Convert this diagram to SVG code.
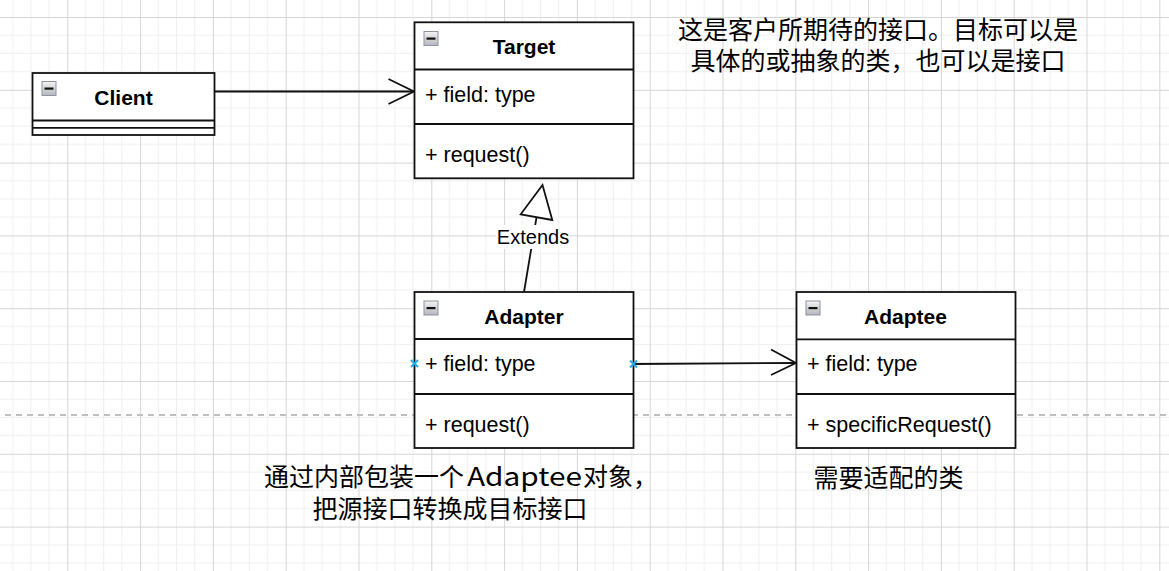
<svg xmlns="http://www.w3.org/2000/svg" width="1169" height="571" viewBox="0 0 1169 571">
  <defs>
    <pattern id="grid" patternUnits="userSpaceOnUse" x="-5.5" y="17" width="72.8" height="72.8">
      <path d="M18.2 0V72.8M36.4 0V72.8M54.6 0V72.8M0 18.2H72.8M0 36.4H72.8M0 54.6H72.8" stroke="#efefef" stroke-width="1" fill="none"/>
      <path d="M0.5 0V72.8M0 0.5H72.8" stroke="#d6d6d6" stroke-width="1" fill="none"/>
    </pattern>
    <linearGradient id="iconGrad" x1="0" y1="0" x2="0" y2="1">
      <stop offset="0" stop-color="#f4f4f4"/>
      <stop offset="1" stop-color="#b4b6bc"/>
    </linearGradient>
    <g id="icon">
      <rect x="0.5" y="0.5" width="14" height="14" fill="url(#iconGrad)" stroke="#8c93a3" stroke-width="1"/>
      <rect x="3" y="6.5" width="9" height="2.2" fill="#111"/>
    </g>
  </defs>
  <style>
    .box { fill: #ffffff; stroke: #111; stroke-width: 1.8; }
    .sep { stroke: #111; stroke-width: 1.8; fill: none; }
    .title { font-family: "Liberation Sans", Arial, sans-serif; font-size: 21px; font-weight: bold; fill: #000; text-anchor: middle; }
    .member { font-family: "Liberation Sans", Arial, sans-serif; font-size: 21.5px; fill: #000; }
    .note { font-family: "Noto Sans CJK SC", "Noto Sans", sans-serif; font-size: 25px; fill: #000; }
    .edge { stroke: #111; stroke-width: 1.8; fill: none; }
    .label { font-family: "Liberation Sans", Arial, sans-serif; font-size: 20px; fill: #000; text-anchor: middle; }
    .pin { stroke: #2aa7e6; stroke-width: 2; fill: none; }
  </style>

  <rect x="0" y="0" width="1169" height="571" fill="#ffffff"/>
  <rect x="0" y="0" width="1169" height="571" fill="url(#grid)"/>
  <line x1="5" y1="415" x2="1169" y2="415" stroke="#bfbfbf" stroke-width="1.8" stroke-dasharray="6 5"/>

  <g id="connectors">
    <g id="client-target">
      <line class="edge" x1="214.5" y1="91.5" x2="413.5" y2="91.5"/>
      <polyline class="edge" points="388.5,79 414,91.5 388.5,104"/>
    </g>
    <g id="adapter-target">
      <line class="edge" x1="524" y1="292" x2="536.6" y2="216.8"/>
      <polygon points="542.5,185 520.7,214.3 552.3,220" fill="#ffffff" stroke="#111" stroke-width="1.8" stroke-linejoin="miter"/>
      <rect x="496" y="225" width="74" height="24" fill="#ffffff"/>
      <text class="label" x="533" y="244">Extends</text>
    </g>
    <g id="adapter-adaptee">
      <line class="edge" x1="633.5" y1="364" x2="795.5" y2="363"/>
      <polyline class="edge" points="771,349.5 796,363 771,375"/>
    </g>
  </g>

  <g id="client">
    <rect class="box" x="32.5" y="73" width="182" height="62"/>
    <line class="sep" x1="32.5" y1="120.5" x2="214.5" y2="120.5"/>
    <line class="sep" x1="32.5" y1="127.8" x2="214.5" y2="127.8"/>
    <use href="#icon" x="41.5" y="81"/>
    <text class="title" x="123.5" y="105">Client</text>
  </g>

  <g id="target">
    <rect class="box" x="414.5" y="22.3" width="219" height="156"/>
    <line class="sep" x1="414.5" y1="69.5" x2="633.5" y2="69.5"/>
    <line class="sep" x1="414.5" y1="124" x2="633.5" y2="124"/>
    <use href="#icon" x="423.5" y="31"/>
    <text class="title" x="524" y="54">Target</text>
    <text class="member" x="425" y="102">+ field: type</text>
    <text class="member" x="425" y="162">+ request()</text>
  </g>

  <g id="adapter">
    <rect class="box" x="414.5" y="292" width="219" height="156"/>
    <line class="sep" x1="414.5" y1="339" x2="633.5" y2="339"/>
    <line class="sep" x1="414.5" y1="394" x2="633.5" y2="394"/>
    <use href="#icon" x="423.5" y="300.5"/>
    <text class="title" x="524" y="323.5">Adapter</text>
    <text class="member" x="425" y="370.5">+ field: type</text>
    <text class="member" x="425" y="431.5">+ request()</text>
    <path class="pin" d="M411 360L418 367M418 360L411 367"/>
    <path class="pin" d="M630 360.5L637 367.5M637 360.5L630 367.5"/>
  </g>

  <g id="adaptee">
    <rect class="box" x="796.5" y="292" width="219" height="156"/>
    <line class="sep" x1="796.5" y1="339.3" x2="1015.5" y2="339.3"/>
    <line class="sep" x1="796.5" y1="394" x2="1015.5" y2="394"/>
    <use href="#icon" x="805.5" y="300.5"/>
    <text class="title" x="905.5" y="323.5">Adaptee</text>
    <text class="member" x="807" y="370.5">+ field: type</text>
    <text class="member" x="807" y="432">+ specificRequest()</text>
  </g>

  <g id="note-target">
    <text class="note" text-anchor="middle"><tspan x="878" y="39">这是客户所期待的接口。目标可以是</tspan><tspan x="878" y="70">具体的或抽象的类，也可以是接口</tspan></text>
  </g>

  <g id="note-adapter">
    <text class="note"><tspan x="264" y="486">通过内部包装一个</tspan><tspan x="467" y="486" textLength="115" lengthAdjust="spacingAndGlyphs">Adaptee</tspan><tspan x="583" y="486">对象，</tspan><tspan x="450" y="518" text-anchor="middle">把源接口转换成目标接口</tspan></text>
  </g>

  <g id="note-adaptee">
    <text class="note" text-anchor="middle" x="888.5" y="487">需要适配的类</text>
  </g>
</svg>
